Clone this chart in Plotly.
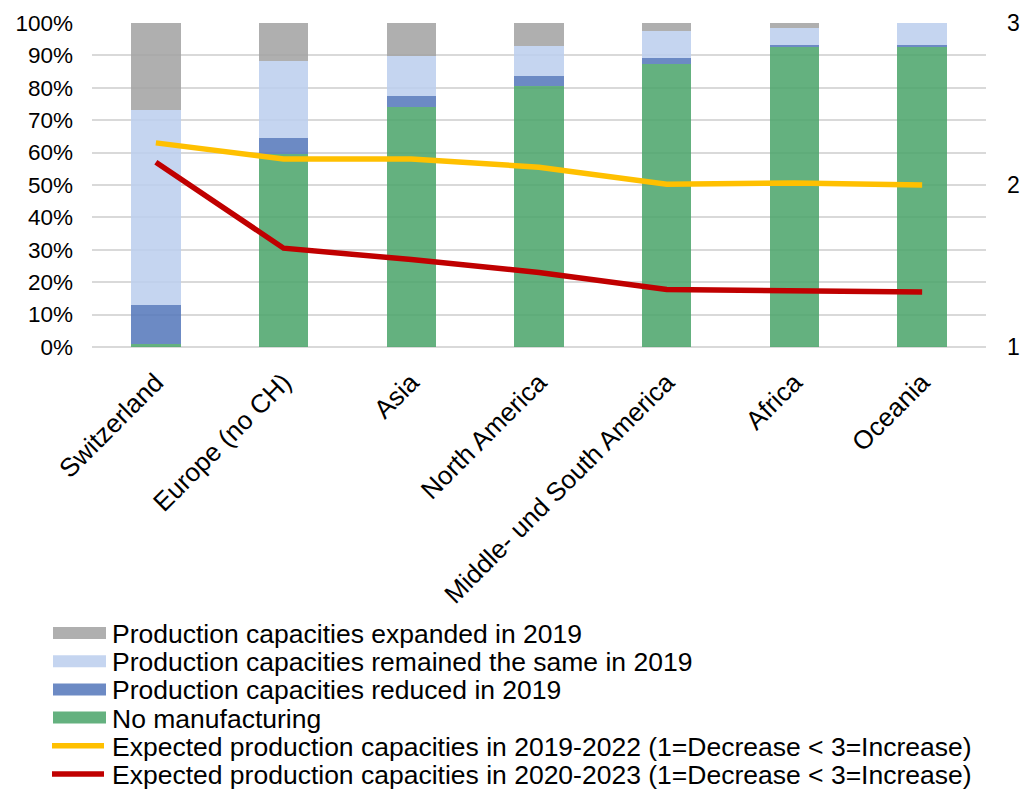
import plotly.graph_objects as go

categories = ["Switzerland", "Europe (no CH)", "Asia", "North America",
              "Middle- und South America", "Africa", "Oceania"]
no_manufacturing = [0.9, 59.5, 74.0, 80.5, 87.3, 92.5, 92.5]
reduced = [12.0, 4.9, 3.5, 3.2, 2.0, 0.8, 0.8]
same = [60.2, 23.8, 12.3, 9.2, 8.3, 5.2, 6.7]
expanded = [26.9, 11.8, 10.2, 7.1, 2.4, 1.5, 0.0]
expected_2019_2022 = [2.26, 2.16, 2.16, 2.11, 2.005, 2.013, 2.0]
expected_2020_2023 = [2.14, 1.61, 1.54, 1.46, 1.355, 1.346, 1.34]

names = ["Production capacities expanded in 2019",
         "Production capacities remained the same in 2019",
         "Production capacities reduced in 2019",
         "No manufacturing",
         "Expected production capacities in 2019-2022 (1=Decrease < 3=Increase)",
         "Expected production capacities in 2020-2023 (1=Decrease < 3=Increase)"]

c_green = "rgba(73,163,104,0.85)"
c_reduced = "rgba(82,117,186,0.85)"
c_same = "rgba(187,206,237,0.85)"
c_exp = "rgba(161,161,161,0.85)"
c_yellow = "#FFC000"
c_red = "#C00000"

font = "Liberation Sans, Arial, sans-serif"
W, H = 1027, 789
ML, MR, MT, MB = 92, 41, 23, 442
PW, PH = W - ML - MR, H - MT - MB

fig = go.Figure()

series = [(no_manufacturing, c_green, names[3]),
          (reduced, c_reduced, names[2]),
          (same, c_same, names[1]),
          (expanded, c_exp, names[0])]
for vals, col, nm in series:
    fig.add_trace(go.Bar(x=categories, y=[v / 100 for v in vals], name=nm,
                         marker=dict(color=col, line=dict(width=0)),
                         showlegend=False))

fig.add_trace(go.Scatter(x=categories, y=expected_2019_2022, yaxis="y2", mode="lines",
                         line=dict(color=c_yellow, width=5.5), showlegend=False, name=names[4]))
fig.add_trace(go.Scatter(x=categories, y=expected_2020_2023, yaxis="y2", mode="lines",
                         line=dict(color=c_red, width=5.5), showlegend=False, name=names[5]))


def px_x(px):
    return (px - ML) / PW


def px_y(py):
    return (H - MB - py) / PH


# custom legend (rows spaced like the reference)
leg = [(names[0], c_exp, "bar"), (names[1], c_same, "bar"), (names[2], c_reduced, "bar"),
       (names[3], c_green, "bar"), (names[4], c_yellow, "line"), (names[5], c_red, "line")]
row0, step = 633, 28.2
shapes = []
annotations = []
for i, (nm, col, kind) in enumerate(leg):
    cy = row0 + i * step
    if kind == "bar":
        shapes.append(dict(type="rect", xref="paper", yref="paper",
                           x0=px_x(53), x1=px_x(106), y0=px_y(cy - 6), y1=px_y(cy + 6),
                           fillcolor=col, line=dict(width=0)))
    else:
        shapes.append(dict(type="line", xref="paper", yref="paper",
                           x0=px_x(52), x1=px_x(104), y0=px_y(cy), y1=px_y(cy),
                           line=dict(color=col, width=5.5)))
    annotations.append(dict(text=nm, xref="paper", yref="paper", x=px_x(110), y=px_y(cy + 1),
                            xanchor="left", yanchor="middle", showarrow=False,
                            font=dict(size=26.5, family=font, color="#000000")))

fig.update_layout(
    width=W, height=H,
    barmode="stack", bargap=0.614,
    paper_bgcolor="white", plot_bgcolor="white",
    margin=dict(l=ML, r=MR, t=MT, b=MB, autoexpand=False),
    font=dict(family=font, size=23, color="#000000"),
    xaxis=dict(tickangle=-45, tickfont=dict(size=26), showgrid=False,
               showline=False, ticks="", ticklabelstandoff=14),
    yaxis=dict(range=[0, 1], dtick=0.1, tickformat=".0%", showgrid=True,
               gridcolor="#D9D9D9", gridwidth=1.5, zeroline=True, zerolinecolor="#D9D9D9",
               zerolinewidth=1.5, tickfont=dict(size=22.5), ticks="", ticklabelstandoff=18),
    yaxis2=dict(range=[1, 3], overlaying="y", side="right", tickvals=[1, 2, 3],
                showgrid=False, zeroline=False, tickfont=dict(size=23), ticks="",
                ticklabelstandoff=20),
    showlegend=False,
    shapes=shapes,
    annotations=annotations,
)

fig.write_html("out.html")
